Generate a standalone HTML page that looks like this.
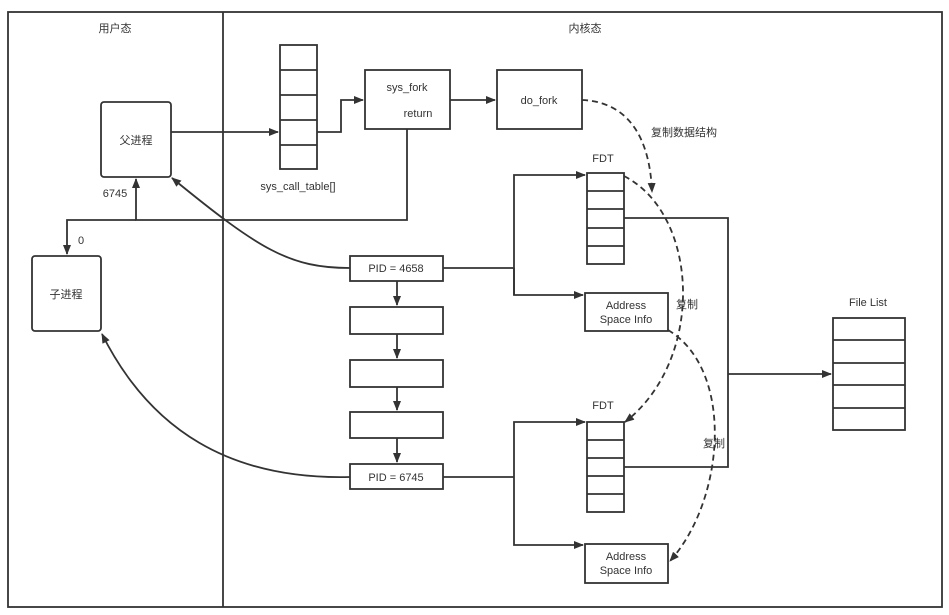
<!DOCTYPE html>
<html><head><meta charset="utf-8"><style>
html,body{margin:0;padding:0;background:#fff;}
svg{display:block;}
text{font-family:"Liberation Sans","Noto Sans CJK SC",sans-serif;font-size:11px;fill:#333;}
</style></head><body>
<svg width="949" height="615" viewBox="0 0 949 615" xmlns="http://www.w3.org/2000/svg">
<defs>
<marker id="a" markerWidth="10" markerHeight="8" refX="9" refY="4" orient="auto" markerUnits="userSpaceOnUse">
<path d="M0,0 L10,4 L0,8 Z" fill="#333"/></marker>
</defs>
<g fill="none" stroke="#333" stroke-width="1.8">
<rect x="8" y="12" width="934" height="595"/>
<line x1="223" y1="12" x2="223" y2="607"/>
<rect x="101" y="102" width="70" height="75" rx="3" fill="#fff"/>
<rect x="32" y="256" width="69" height="75" rx="3" fill="#fff"/>
<rect x="280" y="45" width="37" height="124"/>
<line x1="280" y1="70" x2="317" y2="70"/><line x1="280" y1="95" x2="317" y2="95"/>
<line x1="280" y1="120" x2="317" y2="120"/><line x1="280" y1="145" x2="317" y2="145"/>
<rect x="365" y="70" width="85" height="59"/>
<rect x="497" y="70" width="85" height="59"/>
<path d="M171,132 H278" marker-end="url(#a)"/>
<path d="M317,132 H341 V100 H363" marker-end="url(#a)"/>
<path d="M450,100 H495" marker-end="url(#a)"/>
<path d="M407,129 V220 H136 V179" marker-end="url(#a)"/>
<path d="M136,220 H67 V254" marker-end="url(#a)"/>
<rect x="350" y="256" width="93" height="25"/>
<rect x="350" y="307" width="93" height="27"/>
<rect x="350" y="360" width="93" height="27"/>
<rect x="350" y="412" width="93" height="26"/>
<rect x="350" y="464" width="93" height="25"/>
<path d="M397,281 V305" marker-end="url(#a)"/>
<path d="M397,334 V358" marker-end="url(#a)"/>
<path d="M397,387 V410" marker-end="url(#a)"/>
<path d="M397,438 V462" marker-end="url(#a)"/>
<path d="M350,268 C290,268 260,250 172,178" marker-end="url(#a)"/>
<path d="M350,477 C230,480 150,430 102,334" marker-end="url(#a)"/>
<path d="M443,268 H514"/>
<path d="M514,295 V175 H585" marker-end="url(#a)"/>
<path d="M514,268 V295 H583" marker-end="url(#a)"/>
<path d="M443,477 H514"/>
<path d="M514,477 V422 H585" marker-end="url(#a)"/>
<path d="M514,477 V545 H583" marker-end="url(#a)"/>
<rect x="587" y="173" width="37" height="91"/>
<line x1="587" y1="191" x2="624" y2="191"/><line x1="587" y1="209" x2="624" y2="209"/>
<line x1="587" y1="228" x2="624" y2="228"/><line x1="587" y1="246" x2="624" y2="246"/>
<rect x="587" y="422" width="37" height="90"/>
<line x1="587" y1="440" x2="624" y2="440"/><line x1="587" y1="458" x2="624" y2="458"/>
<line x1="587" y1="476" x2="624" y2="476"/><line x1="587" y1="494" x2="624" y2="494"/>
<rect x="585" y="293" width="83" height="38"/>
<rect x="585" y="544" width="83" height="39"/>
<path d="M624,218 H728 V467 H624"/>
<path d="M728,374 H831" marker-end="url(#a)"/>
<rect x="833" y="318" width="72" height="112"/>
<line x1="833" y1="340" x2="905" y2="340"/><line x1="833" y1="363" x2="905" y2="363"/>
<line x1="833" y1="385" x2="905" y2="385"/><line x1="833" y1="408" x2="905" y2="408"/>
</g>
<g fill="none" stroke="#333" stroke-width="1.8" stroke-dasharray="6,4">
<path d="M582,100 C630,102 650,140 652,192" marker-end="url(#a)"/>
<path d="M624,176 C700,215 705,360 625,422" marker-end="url(#a)"/>
<path d="M668,330 C735,370 725,500 670,561" marker-end="url(#a)"/>
</g>
<text x="115" y="32" text-anchor="middle">用户态</text>
<text x="585" y="32" text-anchor="middle">内核态</text>
<text x="136" y="144" text-anchor="middle">父进程</text>
<text x="66" y="298" text-anchor="middle">子进程</text>
<text x="115" y="197" text-anchor="middle">6745</text>
<text x="81" y="244" text-anchor="middle">0</text>
<text x="298" y="190" text-anchor="middle">sys_call_table[]</text>
<text x="407" y="91" text-anchor="middle">sys_fork</text>
<text x="418" y="117" text-anchor="middle">return</text>
<text x="539" y="104" text-anchor="middle">do_fork</text>
<text x="684" y="136" text-anchor="middle">复制数据结构</text>
<text x="603" y="162" text-anchor="middle">FDT</text>
<text x="603" y="409" text-anchor="middle">FDT</text>
<text x="396" y="272" text-anchor="middle">PID = 4658</text>
<text x="396" y="481" text-anchor="middle">PID = 6745</text>
<text x="626" y="309" text-anchor="middle">Address</text>
<text x="626" y="323" text-anchor="middle">Space Info</text>
<text x="626" y="560" text-anchor="middle">Address</text>
<text x="626" y="574" text-anchor="middle">Space Info</text>
<text x="687" y="308" text-anchor="middle">复制</text>
<text x="714" y="447" text-anchor="middle">复制</text>
<text x="868" y="306" text-anchor="middle">File List</text>
</svg>
</body></html>
